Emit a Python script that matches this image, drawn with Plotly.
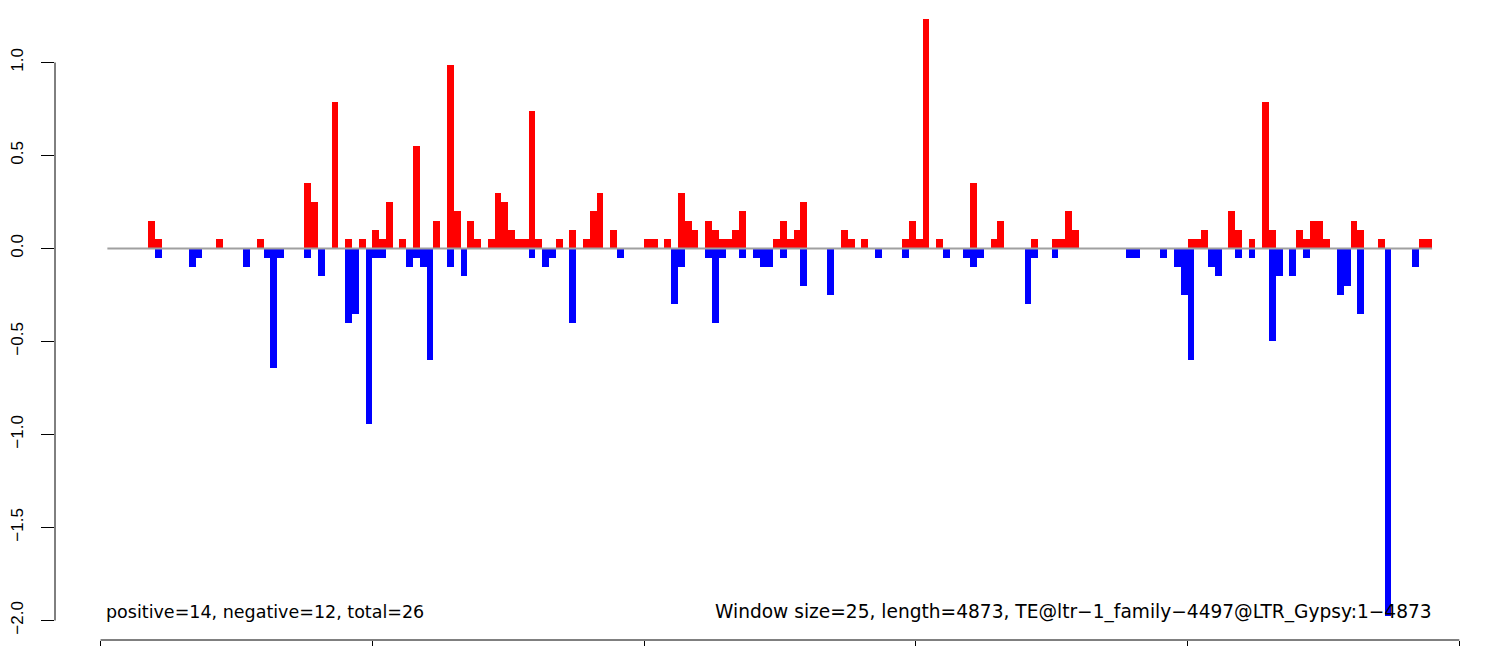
import plotly.graph_objects as go

# ---- data ----
window_size = 25
seq_length = 4873
n_windows = 195

# windows (0-based index) with a positive (red) value
pos_windows = [6, 7, 16, 22, 29, 30, 33, 35, 37, 39, 40, 41, 43, 45, 48, 50, 51, 53, 54,
               56, 57, 58, 59, 60, 61, 62, 63, 66, 68, 70, 71, 72, 74, 79, 80, 82, 84, 85,
               86, 88, 89, 90, 91, 92, 93, 98, 99, 100, 101, 102, 108, 109, 111, 117, 118,
               119, 120, 122, 127, 130, 131, 136, 139, 140, 141, 142, 159, 160, 161, 165,
               166, 168, 170, 171, 175, 176, 177, 178, 179, 183, 184, 187, 193, 194]
pos_values = [0.15, 0.05, 0.05, 0.05, 0.35, 0.25, 0.79, 0.05, 0.05, 0.10, 0.05, 0.25, 0.05,
              0.55, 0.15, 0.985, 0.20, 0.15, 0.05, 0.05, 0.30, 0.25, 0.10, 0.05, 0.05, 0.74,
              0.05, 0.05, 0.10, 0.05, 0.20, 0.30, 0.10, 0.05, 0.05, 0.05, 0.30, 0.15, 0.10,
              0.15, 0.10, 0.05, 0.05, 0.10, 0.20, 0.05, 0.15, 0.05, 0.10, 0.25, 0.10, 0.05,
              0.05, 0.05, 0.15, 0.05, 1.235, 0.05, 0.35, 0.05, 0.15, 0.05, 0.05, 0.05, 0.20,
              0.10, 0.05, 0.05, 0.10, 0.20, 0.10, 0.05, 0.79, 0.10, 0.10, 0.05, 0.15, 0.15,
              0.05, 0.15, 0.10, 0.05, 0.05, 0.05]

# windows (0-based index) with a negative (blue) value
neg_windows = [7, 12, 13, 20, 23, 24, 25, 29, 31, 35, 36, 38, 39, 40, 44, 45, 46, 47, 50, 52,
               62, 64, 65, 68, 75, 83, 84, 88, 89, 90, 93, 95, 96, 97, 99, 102, 106, 113, 117,
               123, 126, 127, 128, 135, 136, 139, 150, 151, 155, 157, 158, 159, 162, 163, 166,
               168, 171, 172, 174, 176, 181, 182, 184, 188, 192]
neg_values = [-0.05, -0.10, -0.05, -0.10, -0.05, -0.643, -0.05, -0.05, -0.15, -0.40, -0.35,
              -0.942, -0.05, -0.05, -0.10, -0.05, -0.10, -0.60, -0.10, -0.15, -0.05, -0.10,
              -0.05, -0.40, -0.05, -0.30, -0.10, -0.05, -0.40, -0.05, -0.05, -0.05, -0.10,
              -0.10, -0.05, -0.20, -0.25, -0.05, -0.05, -0.05, -0.05, -0.10, -0.05, -0.30,
              -0.05, -0.05, -0.05, -0.05, -0.05, -0.10, -0.25, -0.60, -0.10, -0.15, -0.05,
              -0.05, -0.50, -0.15, -0.15, -0.05, -0.25, -0.20, -0.35, -1.975, -0.10]

n_positive = 14
n_negative = 12
te_name = "TE@ltr−1_family−4497@LTR_Gypsy:1−4873"

x_ticks = [0, 1000, 2000, 3000, 4000, 5000]
y_ticks = [-2.0, -1.5, -1.0, -0.5, 0.0, 0.5, 1.0]

# ---- geometry helpers (window i covers [(i+1)*ws, (i+2)*ws]) ----
def center(i):
    return (i + 1) * window_size + window_size / 2.0

x_start = window_size
x_end = (n_windows + 1) * window_size

fig = go.Figure()
fig.add_trace(go.Bar(x=[center(i) for i in pos_windows], y=pos_values,
                     width=window_size, marker=dict(color="#FF0000", line=dict(width=0)),
                     showlegend=False, hoverinfo="x+y"))
fig.add_trace(go.Bar(x=[center(i) for i in neg_windows], y=neg_values,
                     width=window_size, marker=dict(color="#0000FF", line=dict(width=0)),
                     showlegend=False, hoverinfo="x+y"))
fig.add_trace(go.Scatter(x=[x_start, x_end], y=[0, 0], mode="lines",
                         line=dict(color="#A0A0A0", width=2), showlegend=False,
                         hoverinfo="skip"))

# R-style axis lines that only span first..last tick
fig.add_shape(type="line", xref="x", yref="paper", x0=x_ticks[0], x1=x_ticks[-1],
              y0=0, y1=0, line=dict(color="black", width=1))
fig.add_shape(type="line", xref="paper", yref="y", x0=0, x1=0,
              y0=y_ticks[0], y1=y_ticks[-1], line=dict(color="black", width=1))

fig.add_annotation(x=x_start, y=-1.955, xref="x", yref="y", xanchor="left", yanchor="middle",
                   xshift=-3,
                   text=f"positive={n_positive}, negative={n_negative}, total={n_positive + n_negative}",
                   showarrow=False, font=dict(family="DejaVu Sans", size=17.5, color="black"))
fig.add_annotation(x=x_end, y=-1.955, xref="x", yref="y", xanchor="right", yanchor="middle",
                   xshift=2,
                   text=f"Window size={window_size}, length={seq_length}, {te_name}",
                   showarrow=False, font=dict(family="DejaVu Sans", size=18.6, color="black"))

# the page body has an 8px default margin, compensated in the margins/ranges below
fig.update_layout(
    width=1504, height=646,
    margin=dict(l=43, r=27, t=0, b=14),
    paper_bgcolor="white", plot_bgcolor="white",
    barmode="overlay", bargap=0,
    font=dict(family="Liberation Sans", size=17, color="black"),
    xaxis=dict(range=[-167.7, 5094.6], tickvals=x_ticks, ticks="outside", ticklen=10,
               tickcolor="black", tickwidth=1, showticklabels=False, showgrid=False,
               zeroline=False, showline=False, fixedrange=True),
    yaxis=dict(range=[-2.105, 1.293], tickvals=y_ticks, tickformat=".1f", ticks="outside",
               ticklen=13, tickcolor="black", tickwidth=1, tickangle=-90,
               ticklabelstandoff=11, showgrid=False, zeroline=False, showline=False,
               fixedrange=True, tickfont=dict(family="Liberation Sans", size=17)),
)

fig.write_html("out.html")
